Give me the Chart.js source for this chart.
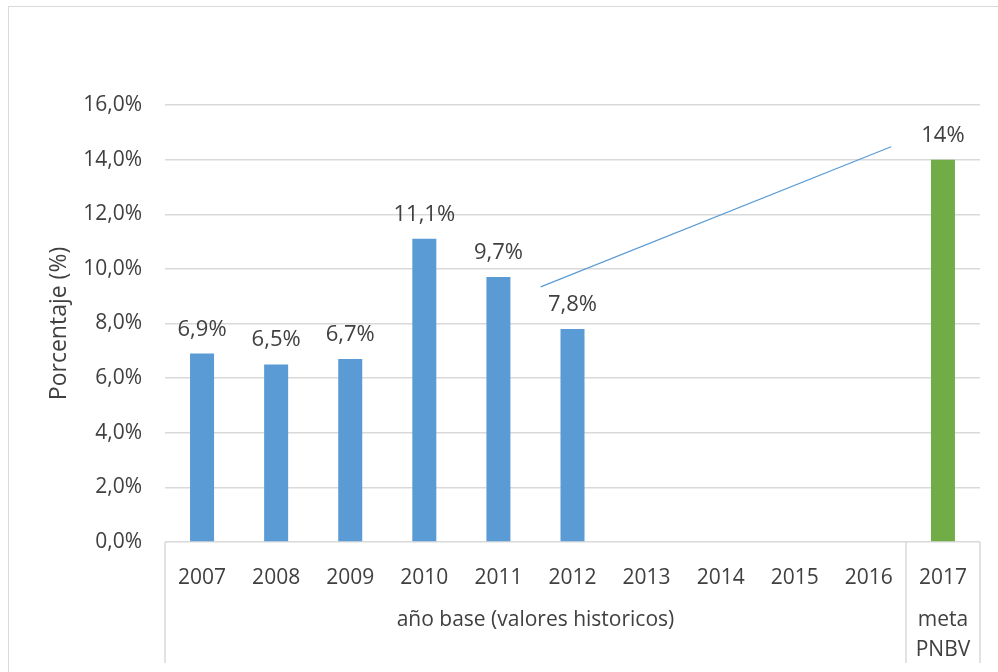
<!DOCTYPE html>
<html>
<head>
<meta charset="utf-8">
<script src="https://cdn.jsdelivr.net/npm/chart.js@4.4.1/dist/chart.umd.min.js"></script>
<style>
  body { margin: 0; background: #fff; }
  #wrap { position: relative; width: 998px; height: 672px; overflow: hidden; }
  #frame { position: absolute; left: 8px; top: 6px; width: 1000px; height: 700px; border: 1px solid #d9d9d9; }
  canvas { position: absolute; left: 0; top: 0; }
</style>
</head>
<body>
<div id="wrap">
  <div id="frame"></div>
  <canvas id="myChart" width="998" height="672"></canvas>
</div>
<script>
var years = ['2007', '2008', '2009', '2010', '2011', '2012', '2013', '2014', '2015', '2016', '2017'];
var values = [6.9, 6.5, 6.7, 11.1, 9.7, 7.8, null, null, null, null, 14];
var valueLabels = ['6,9%', '6,5%', '6,7%', '11,1%', '9,7%', '7,8%', '', '', '', '', '14%'];
var barColors = ['#5b9bd5', '#5b9bd5', '#5b9bd5', '#5b9bd5', '#5b9bd5', '#5b9bd5',
                 '#5b9bd5', '#5b9bd5', '#5b9bd5', '#5b9bd5', '#70ad47'];

// free-drawn arrow line (category index positions, % values)
var trendX = [4.57, 9.30];
var trendY = [9.34, 14.47];

// second level of the category axis
var groupLabels = [['año base (valores historicos)'], ['meta', 'PNBV']];
var groupEnds = [10, 11];

var textColor = '#404040';
var fontFamily = '"Open Sans", sans-serif';

var dataLabels = {
    id: 'dataLabels',
    afterDatasetsDraw: function (chart) {
        var ctx = chart.ctx;
        var meta = chart.getDatasetMeta(0);
        ctx.save();
        ctx.font = '22px ' + fontFamily;
        ctx.fillStyle = textColor;
        ctx.textAlign = 'center';
        ctx.textBaseline = 'alphabetic';
        meta.data.forEach(function (bar, i) {
            if (values[i] == null) return;
            ctx.fillText(valueLabels[i], bar.x, bar.y - 18);
        });
        ctx.restore();
    }
};

var groupAxis = {
    id: 'groupAxis',
    afterDraw: function (chart) {
        var ctx = chart.ctx;
        var xs = chart.scales.x;
        var step = (xs.right - xs.left) / years.length;
        var bottom = xs.top;
        ctx.save();
        ctx.strokeStyle = '#d9d9d9';
        ctx.lineWidth = 1.5;
        var edges = [0].concat(groupEnds);
        edges.forEach(function (e) {
            var px = Math.round(xs.left + e * step);
            ctx.beginPath();
            ctx.moveTo(px, bottom);
            ctx.lineTo(px, 663);
            ctx.stroke();
        });
        ctx.font = '21px ' + fontFamily;
        ctx.fillStyle = textColor;
        ctx.textAlign = 'center';
        ctx.textBaseline = 'middle';
        var start = 0;
        groupLabels.forEach(function (lines, g) {
            var cx = xs.left + (start + groupEnds[g]) / 2 * step;
            lines.forEach(function (t, k) {
                ctx.fillText(t, cx, 620 + k * 30);
            });
            start = groupEnds[g];
        });
        ctx.restore();
    }
};

var ctx = document.getElementById('myChart').getContext('2d');
var myChart = new Chart(ctx, {
    type: 'bar',
    data: {
        labels: years,
        datasets: [{
            data: values,
            backgroundColor: barColors,
            barPercentage: 0.324,
            categoryPercentage: 1.0,
            grouped: false
        }, {
            type: 'line',
            xAxisID: 'x2',
            data: trendX.map(function (x, i) { return { x: x, y: trendY[i] }; }),
            borderColor: '#5b9bd5',
            borderWidth: 1.2,
            pointRadius: 0,
            fill: false
        }]
    },
    options: {
        responsive: false,
        animation: false,
        layout: { padding: { top: 105, right: 18, left: 0, bottom: 0 } },
        plugins: {
            legend: { display: false },
            tooltip: { enabled: false }
        },
        scales: {
            x: {
                grid: { display: false },
                border: { display: false },
                ticks: {
                    color: textColor,
                    font: { family: fontFamily, size: 21 },
                    padding: 15,
                    maxRotation: 0
                },
                afterFit: function (s) { s.height = 130; }
            },
            x2: {
                type: 'linear',
                display: false,
                offset: false,
                min: -0.5,
                max: 10.5
            },
            y: {
                min: 0,
                max: 16,
                ticks: {
                    stepSize: 2,
                    color: textColor,
                    font: { family: fontFamily, size: 21 },
                    padding: 23,
                    callback: function (v) { return v.toFixed(1).replace('.', ',') + '%'; }
                },
                grid: { color: '#d9d9d9', lineWidth: 1.5, drawTicks: false },
                border: { display: false },
                title: {
                    display: true,
                    text: 'Porcentaje (%)',
                    color: textColor,
                    font: { family: fontFamily, size: 23 },
                    padding: { top: 46, bottom: 0 }
                },
                afterFit: function (s) { s.width = 165; }
            }
        }
    },
    plugins: [dataLabels, groupAxis]
});
</script>
</body>
</html>
